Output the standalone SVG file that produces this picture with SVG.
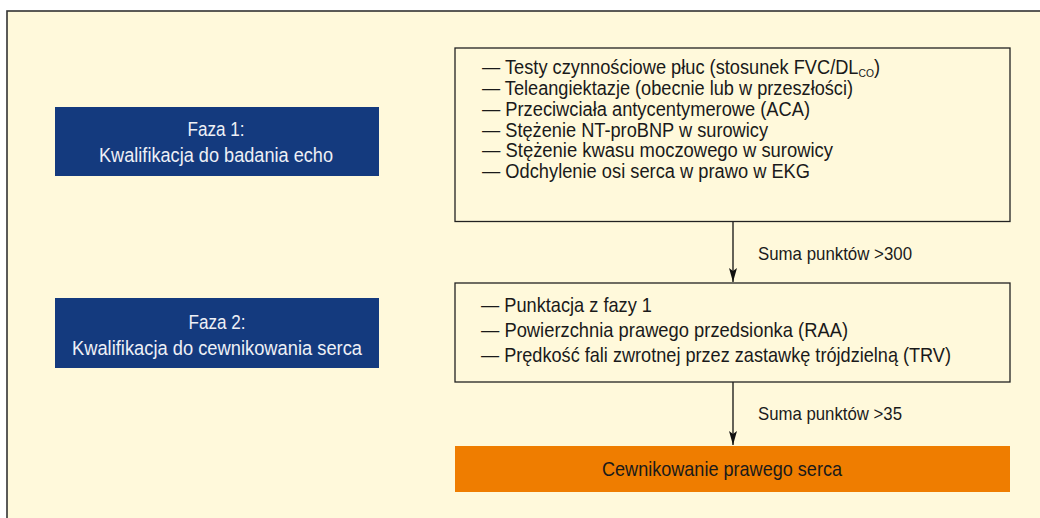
<svg xmlns="http://www.w3.org/2000/svg" width="1040" height="518" viewBox="0 0 1040 518">
<style>
text{font-family:"Liberation Sans Narrow","Liberation Sans",Arial,sans-serif;}
.item{font-size:19.5px;fill:#1a1a1a;}
.item2{font-size:21px;fill:#1a1a1a;}
.lbl{font-size:18.5px;fill:#1a1a1a;}
.phase{font-size:20.5px;fill:#eef0f6;text-anchor:middle;}
.wbox{fill:#fff9db;stroke:#222;stroke-width:1.3;}
.bbox{fill:#143a7e;}
.conn{stroke:#111;stroke-width:1.3;fill:none;marker-end:url(#ah);}
</style>
<defs>
<marker id="ah" markerWidth="14" markerHeight="8" refX="14" refY="4" orient="auto" markerUnits="userSpaceOnUse" viewBox="0 0 14 8">
<path d="M0,0 L14,4 L0,8 L3,4 Z" fill="#111"/>
</marker>
</defs>
<rect x="7" y="11" width="1040" height="520" fill="#fff9db" stroke="#333" stroke-width="1.6"/>

<g id="connectors">
<line class="conn" x1="733" y1="222" x2="733" y2="282"/>
<text class="lbl" x="758" y="260" textLength="154" lengthAdjust="spacingAndGlyphs">Suma punktów &gt;300</text>
<line class="conn" x1="733" y1="382" x2="733" y2="445"/>
<text class="lbl" x="758" y="420" textLength="144" lengthAdjust="spacingAndGlyphs">Suma punktów &gt;35</text>
</g>

<g id="phase1">
<rect class="bbox" x="55" y="107" width="324" height="69"/>
<text class="phase" x="216" y="136" textLength="57" lengthAdjust="spacingAndGlyphs">Faza 1:</text>
<text class="phase" x="216" y="162" textLength="234" lengthAdjust="spacingAndGlyphs">Kwalifikacja do badania echo</text>
</g>

<g id="phase2">
<rect class="bbox" x="55" y="298" width="324" height="70"/>
<text class="phase" x="217" y="329" textLength="57" lengthAdjust="spacingAndGlyphs">Faza 2:</text>
<text class="phase" x="217" y="355" textLength="290" lengthAdjust="spacingAndGlyphs">Kwalifikacja do cewnikowania serca</text>
</g>

<g id="criteria1">
<rect class="wbox" x="455" y="48" width="555" height="173.5"/>
<text class="item" x="482" y="74" textLength="398" lengthAdjust="spacingAndGlyphs">— Testy czynnościowe płuc (stosunek FVC/DL<tspan font-size="11" dy="3">CO</tspan><tspan dy="-3">)</tspan></text>
<text class="item" x="482" y="95" textLength="371" lengthAdjust="spacingAndGlyphs">— Teleangiektazje (obecnie lub w przeszłości)</text>
<text class="item" x="482" y="116" textLength="328" lengthAdjust="spacingAndGlyphs">— Przeciwciała antycentymerowe (ACA)</text>
<text class="item" x="482" y="137" textLength="286" lengthAdjust="spacingAndGlyphs">— Stężenie NT-proBNP w surowicy</text>
<text class="item" x="482" y="157" textLength="351" lengthAdjust="spacingAndGlyphs">— Stężenie kwasu moczowego w surowicy</text>
<text class="item" x="482" y="178" textLength="328" lengthAdjust="spacingAndGlyphs">— Odchylenie osi serca w prawo w EKG</text>
</g>

<g id="criteria2">
<rect class="wbox" x="455" y="283" width="555" height="99"/>
<text class="item2" x="481" y="312" textLength="171" lengthAdjust="spacingAndGlyphs">— Punktacja z fazy 1</text>
<text class="item2" x="481" y="337" textLength="367" lengthAdjust="spacingAndGlyphs">— Powierzchnia prawego przedsionka (RAA)</text>
<text class="item2" x="481" y="362" textLength="470" lengthAdjust="spacingAndGlyphs">— Prędkość fali zwrotnej przez zastawkę trójdzielną (TRV)</text>
</g>

<g id="rhc">
<rect x="455" y="446" width="555" height="46" fill="#ef7d00"/>
<text x="722" y="476" font-size="21" fill="#1a1a1a" text-anchor="middle" textLength="240" lengthAdjust="spacingAndGlyphs">Cewnikowanie prawego serca</text>
</g>
</svg>
